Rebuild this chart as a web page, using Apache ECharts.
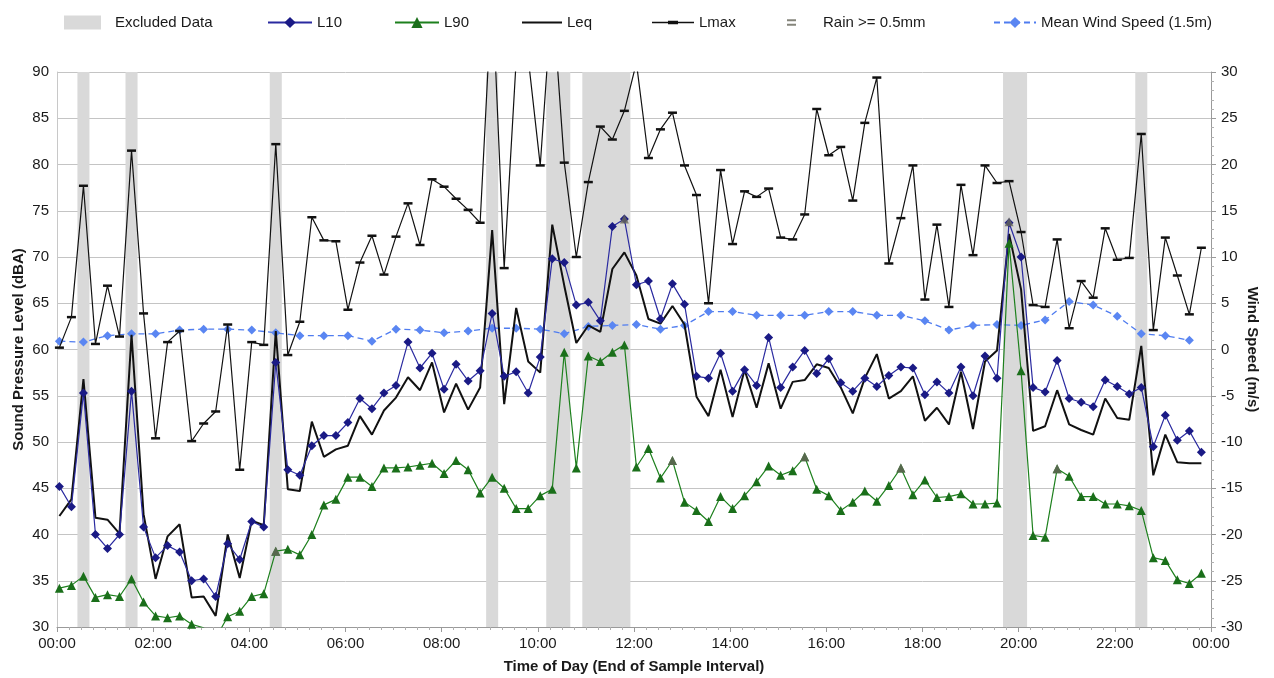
<!DOCTYPE html>
<html><head><meta charset="utf-8">
<script src="https://cdn.jsdelivr.net/npm/echarts@6/dist/echarts.min.js"></script>
<style>html,body{margin:0;padding:0;background:#fff}#c{width:1274px;height:678px}</style>
</head><body><div id="c"></div>
<script>
// 15-minute sample intervals (hours, end of sample interval)
const TIMES = Array.from({length: 96}, (_, k) => +(0.05 + 0.25 * k).toFixed(4));

const L10 = [45.2,43.0,55.3,40.0,38.5,40.0,55.5,40.8,37.5,38.8,38.1,35.0,35.2,33.3,39.0,37.3,
  41.4,40.8,58.6,47.0,46.4,49.6,50.7,50.7,52.1,54.7,53.6,55.3,56.1,60.8,58.0,59.6,
  55.7,58.4,56.6,57.7,63.9,57.1,57.6,55.3,59.2,69.8,69.4,64.8,65.1,63.1,73.3,74.1,
  67.0,67.4,63.3,67.1,64.9,57.1,56.9,59.6,55.5,57.8,56.1,61.3,55.9,58.1,59.9,57.4,
  59.0,56.4,55.5,56.9,56.0,57.2,58.1,58.0,55.1,56.5,55.3,58.1,55.0,59.3,56.9,73.7,
  70.0,55.9,55.4,58.8,54.7,54.3,53.8,56.7,56.0,55.2,55.9,49.5,52.9,50.2,51.2,48.9];

const L90 = [34.2,34.5,35.5,33.2,33.5,33.3,35.2,32.7,31.2,31.0,31.2,30.3,29.9,28.8,31.1,31.7,
  33.3,33.6,38.2,38.4,37.8,40.0,43.2,43.8,46.2,46.2,45.2,47.2,47.2,47.3,47.5,47.7,
  46.6,48.0,47.0,44.5,46.2,45.0,42.8,42.8,44.2,44.9,59.7,47.2,59.3,58.7,59.7,60.5,
  47.3,49.3,46.1,48.0,43.5,42.6,41.4,44.1,42.8,44.2,45.7,47.4,46.4,46.9,48.4,44.9,
  44.2,42.6,43.5,44.7,43.6,45.3,47.2,44.3,45.9,44.0,44.1,44.4,43.3,43.3,43.4,71.5,
  57.7,39.9,39.7,47.1,46.3,44.1,44.1,43.3,43.3,43.1,42.6,37.5,37.2,35.1,34.7,35.8];

const LEQ = [42.0,43.8,56.8,41.8,41.6,40.1,61.6,42.2,35.2,39.8,41.1,33.2,33.3,31.2,40.0,35.3,
  41.5,41.0,62.0,44.9,44.7,52.2,48.4,49.2,49.6,52.8,50.8,53.4,54.8,57.0,55.6,58.6,
  53.2,56.3,53.5,55.9,72.9,54.1,64.5,58.7,57.5,73.5,66.9,60.7,62.6,61.9,68.7,70.5,
  68.0,63.3,62.8,64.7,62.7,54.9,52.8,57.8,52.7,57.8,53.7,58.5,53.6,56.5,56.7,58.4,
  58.0,55.9,53.1,56.9,59.5,54.7,55.5,57.1,52.3,53.7,51.9,57.6,51.4,58.7,59.9,72.5,
  66.5,51.2,51.7,55.6,51.9,51.3,50.8,54.7,52.6,52.4,60.4,46.4,50.8,47.8,47.7,47.7];

const LMAX = [60.2,63.5,77.7,60.6,66.9,61.4,81.5,63.9,50.4,60.8,62.0,50.1,52.0,53.3,62.7,47.0,
  60.8,60.5,82.2,59.4,63.0,74.3,71.8,71.7,64.3,69.4,72.3,68.1,72.2,75.8,71.3,78.4,
  77.6,76.3,75.1,73.7,99.2,68.8,91.3,91.5,79.9,98.5,80.2,70.0,78.1,84.1,82.7,85.8,
  91.0,80.7,83.8,85.6,79.9,76.7,65.0,79.4,71.4,77.1,76.5,77.4,72.1,71.9,74.6,86.0,
  81.0,81.9,76.1,84.5,89.4,69.3,74.2,79.9,65.4,73.5,64.6,77.8,70.2,79.9,78.0,78.2,
  72.7,64.8,64.6,71.9,62.3,67.4,65.6,73.1,69.7,69.9,83.3,62.1,72.1,68.0,63.8,71.0];

// Mean wind speed, 30-minute samples (m/s)
const WIND_TIMES = TIMES.filter((_, k) => k % 2 === 0);
const WIND = [0.9,0.8,1.5,1.7,1.7,2.1,2.2,2.2,2.1,1.8,1.5,1.5,1.5,0.9,2.2,2.1,
  1.8,2.0,2.3,2.3,2.2,1.7,2.5,2.6,2.7,2.2,2.6,4.1,4.1,3.7,3.7,3.7,
  4.1,4.1,3.7,3.7,3.1,2.1,2.6,2.7,2.6,3.2,5.2,4.8,3.6,1.7,1.5,1.0];

// Rain >= 0.5mm flagged samples (index, level)
const RAIN_IDX = [18, 47, 51, 62, 70, 79, 83];
const RAIN_VAL = [38.2, 74.1, 48.0, 48.4, 47.2, 73.8, 47.1];

// Excluded data: sample index ranges
const EXCLUDED = [[2,2],[6,6],[18,18],[36,36],[41,42],[44,47],[79,80],[90,90]];

const pair = (t, v) => t.map((x, i) => [x, v[i]]);
const FONT = 'Liberation Sans, Arial, sans-serif';

const chart = echarts.init(document.getElementById('c'), null, {renderer: 'canvas'});

const TS = {fontSize: 15, color: '#1a1a1a', fontFamily: FONT};
const legendBase = {top: 15, padding: 0, textStyle: TS, itemHeight: 14, selectedMode: false};
const L = (o) => Object.assign({}, legendBase, o);

chart.setOption({
  animation: false,
  backgroundColor: '#fff',
  textStyle: {fontFamily: FONT},
  grid: {left: 57, right: 63, top: 72, bottom: 51, containLabel: false, outerBoundsMode: 'none'},
  legend: [
    L({left: 64, data: ['Excluded Data'], itemWidth: 37, icon: 'rect', textStyle: Object.assign({}, TS, {padding: [0,0,0,9]})}),
    L({left: 267, data: ['L10'], itemWidth: 44}),
    L({left: 394, data: ['L90'], itemWidth: 44}),
    L({left: 522, data: [{name: 'Leq', icon: 'path://M0,0L40,0L40,2.2L0,2.2Z'}], itemWidth: 40}),
    L({left: 652, data: [{name: 'Lmax', icon: 'path://M0,1L42,1L42,2.6L0,2.6Z M16,0L26,0L26,3.6L16,3.6Z'}], itemWidth: 42}),
    L({left: 787, data: ['Rain >= 0.5mm'], itemWidth: 9, itemHeight: 7,
      icon: 'path://M0,0L10,0L10,2L0,2Z M0,5L10,5L10,7L0,7Z', textStyle: Object.assign({}, TS, {padding: [0,0,0,22]})}),
    L({left: 993, data: ['Mean Wind Speed (1.5m)'], itemWidth: 42})
  ],
  xAxis: {
    type: 'value', min: 0, max: 24, interval: 2,
    name: 'Time of Day (End of Sample Interval)', nameLocation: 'middle', nameGap: 32, nameMoveOverlap: false,
    nameTextStyle: {fontSize: 15, fontWeight: 'bold', color: '#1a1a1a', fontFamily: FONT},
    axisLine: {show: true, onZero: false, lineStyle: {color: '#9a9a9a'}},
    axisTick: {show: true, length: 5, lineStyle: {color: '#9a9a9a'}},
    minorTick: {show: true, splitNumber: 8, length: 3, lineStyle: {color: '#b0b0b0'}},
    axisLabel: {fontSize: 15, color: '#1a1a1a', margin: 9, fontFamily: FONT,
      formatter: v => String(v % 24).padStart(2, '0') + ':00'},
    splitLine: {show: false}
  },
  yAxis: [{
    type: 'value', min: 30, max: 90, interval: 5, position: 'left',
    name: 'Sound Pressure Level (dBA)', nameLocation: 'middle', nameGap: 31, nameRotate: 90, nameMoveOverlap: false,
    nameTextStyle: {fontSize: 15, fontWeight: 'bold', color: '#1a1a1a', fontFamily: FONT},
    axisLine: {show: true, lineStyle: {color: '#c8c8c8'}},
    axisTick: {show: false},
    axisLabel: {fontSize: 15, color: '#1a1a1a', margin: 8, fontFamily: FONT},
    splitLine: {show: true, lineStyle: {color: '#c4c4c4', width: 1}}
  }, {
    type: 'value', min: -30, max: 30, interval: 5, position: 'right',
    name: 'Wind Speed (m/s)', nameLocation: 'middle', nameGap: 34, nameRotate: -90, nameMoveOverlap: false,
    nameTextStyle: {fontSize: 15, fontWeight: 'bold', color: '#1a1a1a', fontFamily: FONT},
    axisLine: {show: true, lineStyle: {color: '#9a9a9a'}},
    axisTick: {show: true, length: 5, lineStyle: {color: '#9a9a9a'}},
    minorTick: {show: true, splitNumber: 5, length: 3, lineStyle: {color: '#b0b0b0'}},
    axisLabel: {fontSize: 15, color: '#1a1a1a', margin: 10, fontFamily: FONT},
    splitLine: {show: false}
  }],
  series: [
    {
      name: 'Excluded Data', type: 'custom', clip: true, z: 1,
      itemStyle: {color: '#d9d9d9'},
      encode: {x: [0, 1]},
      data: EXCLUDED.map(([a, b]) => [TIMES[a] - 0.125, TIMES[b] + 0.125]),
      renderItem: (params, api) => {
        const p0 = api.coord([api.value(0), 90]);
        const p1 = api.coord([api.value(1), 30]);
        return {type: 'rect', shape: {x: p0[0], y: p0[1], width: p1[0] - p0[0], height: p1[1] - p0[1]},
          style: {fill: '#d9d9d9'}};
      }
    },
    {
      name: 'Mean Wind Speed (1.5m)', type: 'line', yAxisIndex: 1, z: 3,
      data: pair(WIND_TIMES, WIND),
      symbol: 'diamond', symbolSize: 9, showAllSymbol: true,
      lineStyle: {color: '#4f7cf0', width: 1.3, type: [6, 4]},
      itemStyle: {color: '#5a86f2'}
    },
    {
      name: 'Lmax', type: 'line', z: 4,
      data: pair(TIMES, LMAX),
      symbol: 'rect', symbolSize: [9, 2.5], showAllSymbol: true,
      lineStyle: {color: '#111', width: 1.2},
      itemStyle: {color: '#111'}
    },
    {
      name: 'Leq', type: 'line', z: 5,
      data: pair(TIMES, LEQ),
      symbol: 'none',
      lineStyle: {color: '#111', width: 2},
      itemStyle: {color: '#111'}
    },
    {
      name: 'L10', type: 'line', z: 6,
      data: pair(TIMES, L10),
      symbol: 'diamond', symbolSize: 9, showAllSymbol: true,
      lineStyle: {color: '#2a2aa0', width: 1.2},
      itemStyle: {color: '#1a1a85'}
    },
    {
      name: 'L90', type: 'line', z: 6,
      data: pair(TIMES, L90),
      symbol: 'triangle', symbolSize: 9, showAllSymbol: true,
      lineStyle: {color: '#1d801d', width: 1.2},
      itemStyle: {color: '#1a6f1a'}
    },
    {
      name: 'Rain >= 0.5mm', type: 'scatter', z: 7,
      data: RAIN_IDX.map((k, i) => [TIMES[k], RAIN_VAL[i]]),
      symbol: 'triangle', symbolSize: 9,
      itemStyle: {color: '#66665a'}
    }
  ]
});
</script>
</body></html>
